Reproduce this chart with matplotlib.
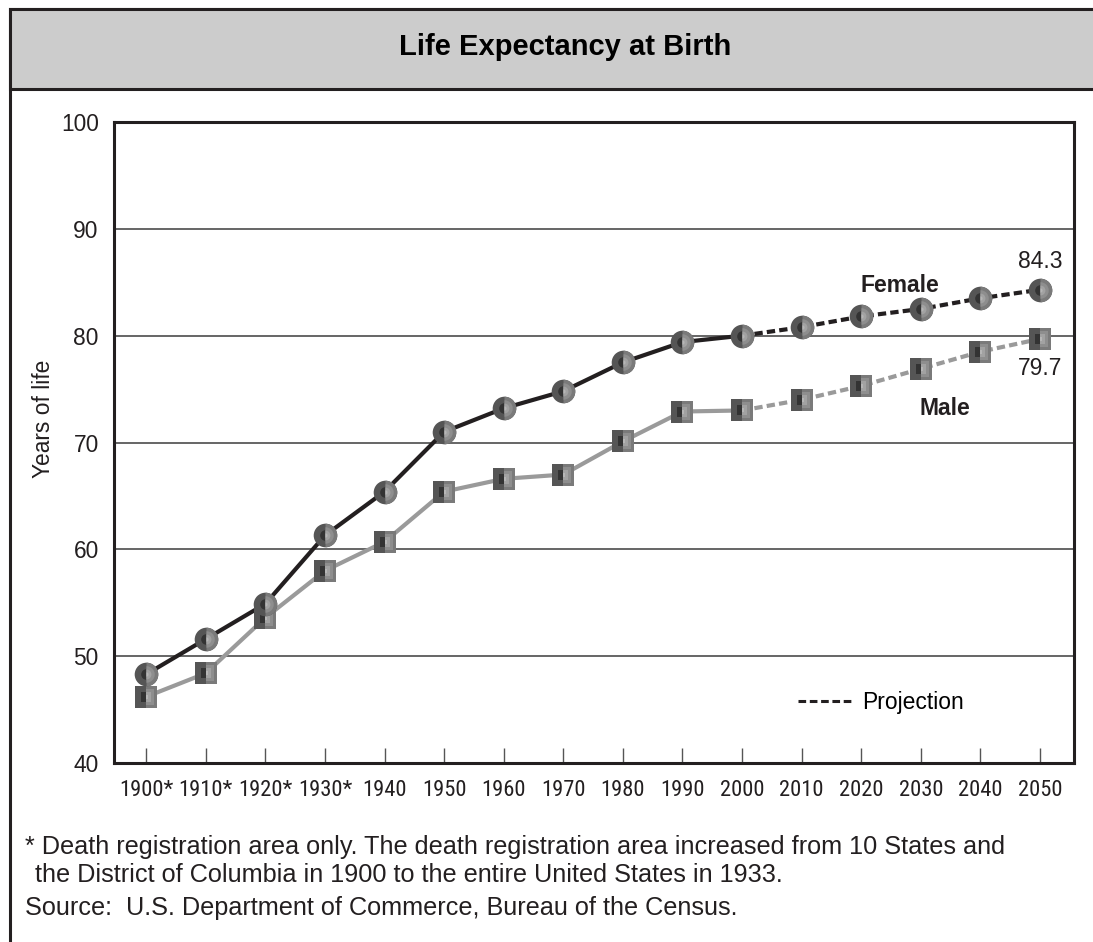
import matplotlib
matplotlib.use("Agg")
import matplotlib.pyplot as plt
from matplotlib import font_manager
from matplotlib.patches import Rectangle
from matplotlib.lines import Line2D


years = [1900, 1910, 1920, 1930, 1940, 1950, 1960, 1970, 1980, 1990,
         2000, 2010, 2020, 2030, 2040, 2050]
year_labels = ["1900*", "1910*", "1920*", "1930*", "1940", "1950", "1960", "1970",
               "1980", "1990", "2000", "2010", "2020", "2030", "2040", "2050"]
female = [48.3, 51.6, 54.9, 61.3, 65.4, 71.0, 73.2, 74.8, 77.5, 79.4,
          80.0, 80.8, 81.8, 82.5, 83.5, 84.3]
male = [46.2, 48.4, 53.6, 58.0, 60.7, 65.4, 66.6, 67.0, 70.1, 72.9,
        73.0, 74.0, 75.3, 76.9, 78.5, 79.7]
last_actual = 10  # 2000, projections after this

W, H = 1093, 942
FONT = ["Liberation Sans", "DejaVu Sans"]
DARK = "#231f20"
MALE_COL = "#9a9a9a"

# the x labels in the original are a narrow face; use one if we have it
names = {f.name for f in font_manager.fontManager.ttflist}
stretches = {(f.name, f.stretch) for f in font_manager.fontManager.ttflist}
xlab_kw = dict(family=FONT, fontsize=12.8)
for nm, sz in [("Liberation Sans Narrow", 16.4), ("Arial Narrow", 16.4),
               ("Roboto Condensed", 16.2)]:
    if nm in names:
        xlab_kw = dict(family=[nm, "DejaVu Sans"], fontsize=sz)
        break
else:
    if ("DejaVu Sans", "condensed") in stretches:
        xlab_kw = dict(family=["DejaVu Sans"], fontstretch="condensed", fontsize=13.5)

plt.rcParams["font.family"] = FONT

fig = plt.figure(figsize=(W / 100, H / 100), dpi=100)

# outer frame (left and top only visible) and the grey title band
fig.patches.append(Rectangle((10 / W, -0.2), 1.5, 1.2 - 9 / H, transform=fig.transFigure,
                             fill=False, edgecolor=DARK, lw=2.2, zorder=0))
fig.patches.append(Rectangle((10 / W, 1 - 89 / H), 1.5, 80 / H, transform=fig.transFigure,
                             facecolor="#cccccc", edgecolor=DARK, lw=2.2, zorder=1))
fig.text(565 / W, 1 - 55 / H, "Life Expectancy at Birth", ha="center", va="baseline",
         fontsize=21, fontweight="bold", color="black")

ax = fig.add_axes([114 / W, 1 - 763 / H, 960 / W, 641 / H])
ax.set_xlim(1894.6, 2055.7)
ax.set_ylim(40, 100)

for s in ax.spines.values():
    s.set_linewidth(2.2)
    s.set_color(DARK)

ax.set_yticks([40, 50, 60, 70, 80, 90, 100])
ax.set_xticks(years)
ax.set_xticklabels(year_labels, **xlab_kw)
ax.tick_params(axis="y", length=0, pad=11, labelsize=16.4, colors=DARK)
ax.tick_params(axis="x", direction="in", length=11, width=1.0, color="#555555",
               pad=12, labelcolor=DARK)
for y in [50, 60, 70, 80, 90]:
    ax.axhline(y, color="#3c3c3c", lw=1.1, zorder=1)

fig.text(43 / W, 1 - 419 / H, "Years of life", rotation=90, ha="center", va="center",
         fontsize=16.4, color=DARK)

# lines: actual solid, projection dashed
ax.plot(years[:last_actual + 1], male[:last_actual + 1], color=MALE_COL, lw=3, zorder=2)
ax.plot(years[last_actual:], male[last_actual:], color=MALE_COL, lw=3,
        dashes=(2.0, 1.0), zorder=2)
ax.plot(years[:last_actual + 1], female[:last_actual + 1], color=DARK, lw=3, zorder=3)
ax.plot(years[last_actual:], female[last_actual:], color=DARK, lw=3,
        dashes=(2.0, 1.0), zorder=3)

# shaded markers: dark left, lighter right half, lighter toward the middle line
shades = [(1.0, "#7a7a7a"), (0.7, "#8e8e8e"), (0.42, "#a2a2a2"), (0.18, "#b6b6b6")]
for vals, mk, ms, z in [(male, "s", 16.5, 4), (female, "o", 17, 6)]:
    ax.plot(years, vals, ls="none", marker=mk, markersize=ms, markerfacecolor="#555555",
            markeredgewidth=0, zorder=z)
    ax.plot(years, vals, ls="none", marker=mk, markersize=ms * 0.45, fillstyle="left",
            markerfacecolor="#333333", markeredgewidth=0, zorder=z + 0.2)
    for frac, col in shades:
        ax.plot(years, vals, ls="none", marker=mk, markersize=ms * frac, fillstyle="right",
                markerfacecolor=col, markeredgewidth=0, zorder=z + 0.5)

ax.text(2026.5, 84.7, "Female", ha="center", va="center", fontsize=16.5,
        fontweight="bold", color=DARK)
ax.text(2034.1, 73.2, "Male", ha="center", va="center", fontsize=16.5,
        fontweight="bold", color=DARK)
ax.text(years[-1], female[-1] + 2.6, f"{female[-1]}", ha="center", va="center",
        fontsize=16.5, color=DARK)
ax.text(years[-1], male[-1] - 2.8, f"{male[-1]}", ha="center", va="center",
        fontsize=16.5, color=DARK)

proj = Line2D([], [], color=DARK, lw=2.2, dashes=(2.5, 1.2))
ax.legend([proj], ["Projection"], loc="center left",
          bbox_to_anchor=((798 - 114) / 960, (763 - 703) / 641),
          frameon=False, fontsize=16.5, handlelength=2.3, handletextpad=0.5,
          borderpad=0, borderaxespad=0)

fig.text(25 / W, 1 - 854 / H,
         "* Death registration area only. The death registration area increased from 10 States and",
         ha="left", va="baseline", fontsize=18.2, color=DARK)
fig.text(35 / W, 1 - 882 / H,
         "the District of Columbia in 1900 to the entire United States in 1933.",
         ha="left", va="baseline", fontsize=18.2, color=DARK)
fig.text(25 / W, 1 - 915 / H,
         "Source:  U.S. Department of Commerce, Bureau of the Census.",
         ha="left", va="baseline", fontsize=18.2, color=DARK)

fig.savefig("out.png", dpi=100)
